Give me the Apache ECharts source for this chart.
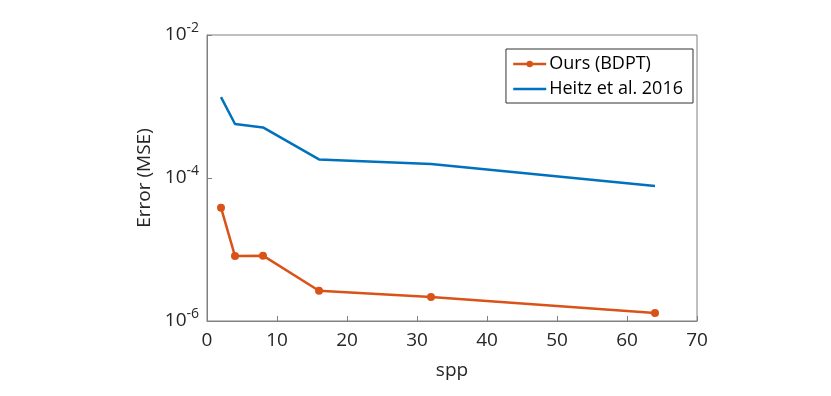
<!DOCTYPE html>
<html>
<head>
<meta charset="utf-8">
<script src="https://cdn.jsdelivr.net/npm/echarts@6/dist/echarts.min.js"></script>
<style>
  html, body { margin: 0; padding: 0; background: #fff; }
  #chart { width: 831px; height: 396px; }
</style>
</head>
<body>
<div id="chart"></div>
<script>
// spp 采样数
const spp = [2, 4, 8, 16, 32, 64];
// MSE
const oursBDPT = [3.85e-5, 8.1e-6, 8.2e-6, 2.65e-6, 2.17e-6, 1.29e-6];
const heitz2016 = [1.35e-3, 5.7e-4, 5.1e-4, 1.82e-4, 1.57e-4, 7.7e-5];
const seriesNames = ['Ours (BDPT)', 'Heitz et al. 2016'];

const axisColor = '#808080';
const textColor = '#262626';
const fontFam = '"Open Sans", "Noto Sans", sans-serif';

const myChart = echarts.init(document.getElementById('chart'));
myChart.setOption({
  animation: false,
  textStyle: { fontFamily: fontFam },
  grid: {
    left: 207, right: 134, top: 35, bottom: 75,
    show: true, borderColor: axisColor, borderWidth: 1
  },
  legend: {
    orient: 'vertical',
    right: 138, top: 49,
    itemWidth: 33, itemHeight: 8, itemGap: 7,
    padding: [6, 10, 5, 6],
    borderColor: '#333', borderWidth: 1,
    backgroundColor: '#fff',
    lineStyle: { width: 2.5 },
    textStyle: { fontSize: 18, color: '#000', fontFamily: fontFam, padding: [0, 0, 0, -2] },
    data: [
      { name: seriesNames[0] },
      { name: seriesNames[1], icon: 'path://M0,0 L40,0 L40,3 L0,3 Z' }
    ]
  },
  xAxis: {
    type: 'value', min: 0, max: 70, interval: 10,
    name: 'spp', nameLocation: 'middle', nameGap: 40,
    nameTextStyle: { fontSize: 19, color: textColor },
    axisLine: { lineStyle: { color: axisColor } },
    axisTick: { inside: true, length: 5, lineStyle: { color: axisColor } },
    axisLabel: { fontSize: 19, color: textColor, margin: 10 },
    splitLine: { show: false }
  },
  yAxis: {
    type: 'log', logBase: 100, min: 1e-6, max: 1e-2,
    name: 'Error (MSE)', nameLocation: 'middle', nameGap: 50,
    nameTextStyle: { fontSize: 19, color: textColor },
    axisLine: { lineStyle: { color: axisColor } },
    axisTick: { inside: true, length: 5, lineStyle: { color: axisColor } },
    axisLabel: {
      margin: 8,
      formatter: function (value) {
        const e = Math.round(Math.log10(value));
        return '{b|10}{s|' + e + '}';
      },
      rich: {
        b: { fontSize: 19, color: textColor, fontFamily: fontFam },
        s: { fontSize: 14, color: textColor, fontFamily: fontFam, padding: [0, 0, 14, 0] }
      }
    },
    splitLine: { show: false }
  },
  series: [
    {
      name: seriesNames[0], type: 'line',
      data: spp.map((x, i) => [x, oursBDPT[i]]),
      symbol: 'circle', symbolSize: 8,
      lineStyle: { color: '#D95319', width: 2.5 },
      itemStyle: { color: '#D95319' }
    },
    {
      name: seriesNames[1], type: 'line',
      data: spp.map((x, i) => [x, heitz2016[i]]),
      symbol: 'none',
      lineStyle: { color: '#0072BD', width: 2.5 },
      itemStyle: { color: '#0072BD' }
    }
  ]
});
</script>
</body>
</html>
